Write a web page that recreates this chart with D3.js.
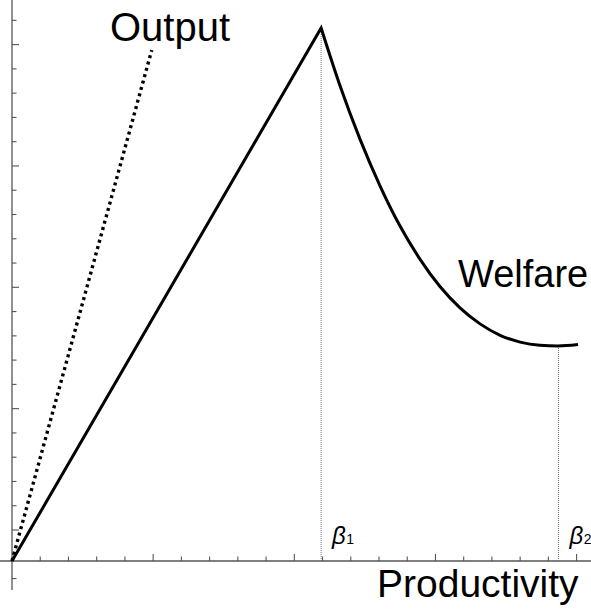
<!DOCTYPE html>
<html><head><meta charset="utf-8">
<script src="https://cdn.jsdelivr.net/npm/d3@7"></script>
<style>html,body{margin:0;padding:0;background:#fff;}svg{display:block;}</style>
</head><body>
<svg id="chart" width="591" height="611"></svg>
<script>
// Data (x in productivity tick units, y in welfare tick units)
const welfareX = [0, 10.95, 11.62, 12.33, 13.04, 13.74, 14.45, 15.16, 15.87, 16.58, 17.29, 18.0, 18.7, 19.34, 20.05];
const welfareY = [0, 21.96, 19.58, 17.37, 15.45, 13.81, 12.44, 11.31, 10.43, 9.77, 9.30, 9.02, 8.89, 8.86, 8.92];
const outputX = [0, 4.95];
const outputY = [0, 21.05];
const betaNames = ["1", "2"];
const betaX = [10.95, 19.36];
const betaTopY = [21.96, 8.86];
const xTickValues = d3.range(1, 21);
const yTickOffset = 1.277;
const yTickIndex = d3.range(-2, 22);
const labels = {output: "Output", welfare: "Welfare", xTitle: "Productivity"};

const svg = d3.select("#chart");
const W = 591, H = 611;
const x = d3.scaleLinear().domain([0, 20]).range([12, 576.6]);
const y = d3.scaleLinear().domain([0, 22]).range([561, 561 - 22 * 24.27]);

const axisColor = "#555";
// x axis
svg.append("line").attr("x1", 0).attr("x2", W).attr("y1", y(0)).attr("y2", y(0))
  .attr("stroke", axisColor).attr("stroke-width", 1.3);
// y axis
svg.append("line").attr("x1", x(0)).attr("x2", x(0)).attr("y1", 0).attr("y2", 590)
  .attr("stroke", axisColor).attr("stroke-width", 1.3);

// x ticks (upward)
svg.append("g").selectAll("line").data(xTickValues).join("line")
  .attr("x1", d => x(d)).attr("x2", d => x(d))
  .attr("y1", y(0)).attr("y2", d => y(0) - (d % 5 === 0 ? 7 : 4.5))
  .attr("stroke", axisColor).attr("stroke-width", 1.1);

// y ticks (rightward)
svg.append("g").selectAll("line").data(yTickIndex).join("line")
  .attr("x1", x(0)).attr("x2", k => x(0) + (k % 5 === 0 ? 7 : 4.5))
  .attr("y1", k => y(yTickOffset + k)).attr("y2", k => y(yTickOffset + k))
  .attr("stroke", axisColor).attr("stroke-width", 1.1);

// beta vertical dotted lines
svg.append("g").selectAll("line").data(betaX).join("line")
  .attr("x1", d => x(d)).attr("x2", d => x(d))
  .attr("y1", (d, i) => y(betaTopY[i])).attr("y2", y(0))
  .attr("stroke", "#777").attr("stroke-width", 1).attr("stroke-dasharray", "1,1");

// Output dotted line
const outLine = d3.line().x(d => x(d[0])).y(d => y(d[1]));
svg.append("path").attr("d", outLine(outputX.map((v, i) => [v, outputY[i]])))
  .attr("fill", "none").attr("stroke", "#000").attr("stroke-width", 3.4)
  .attr("stroke-dasharray", "3,3.6");

// Welfare line: straight rise then smooth decline
const pts = welfareX.map((v, i) => [v, welfareY[i]]);
const curveGen = d3.line().x(d => x(d[0])).y(d => y(d[1])).curve(d3.curveMonotoneX);
const curvePart = curveGen(pts.slice(1));
const dPath = "M" + x(pts[0][0]) + "," + y(pts[0][1]) + "L" + curvePart.slice(1);
svg.append("path").attr("d", dPath).attr("fill", "none").attr("stroke", "#000")
  .attr("stroke-width", 3).attr("stroke-linejoin", "miter").attr("stroke-miterlimit", 20);

const font = "'Liberation Sans', Arial, sans-serif";
svg.append("text").attr("x", 110).attr("y", 41).text(labels.output)
  .attr("font-family", font).attr("font-size", 40).attr("fill", "#000");
svg.append("text").attr("x", 458).attr("y", 287).text(labels.welfare)
  .attr("font-family", font).attr("font-size", 38).attr("fill", "#000");
svg.append("text").attr("x", 377).attr("y", 597).text(labels.xTitle)
  .attr("font-family", font).attr("font-size", 39).attr("fill", "#000");

// beta labels
const bl = svg.append("g").selectAll("text").data(betaX).join("text")
  .attr("x", d => x(d) + 11).attr("y", 544)
  .attr("font-family", font).attr("font-size", 24).attr("fill", "#000");
bl.append("tspan").attr("font-style", "italic").text("β");
bl.append("tspan").attr("font-size", 14).attr("dx", 0.5).text((d, i) => betaNames[i]);
</script>
</body></html>
